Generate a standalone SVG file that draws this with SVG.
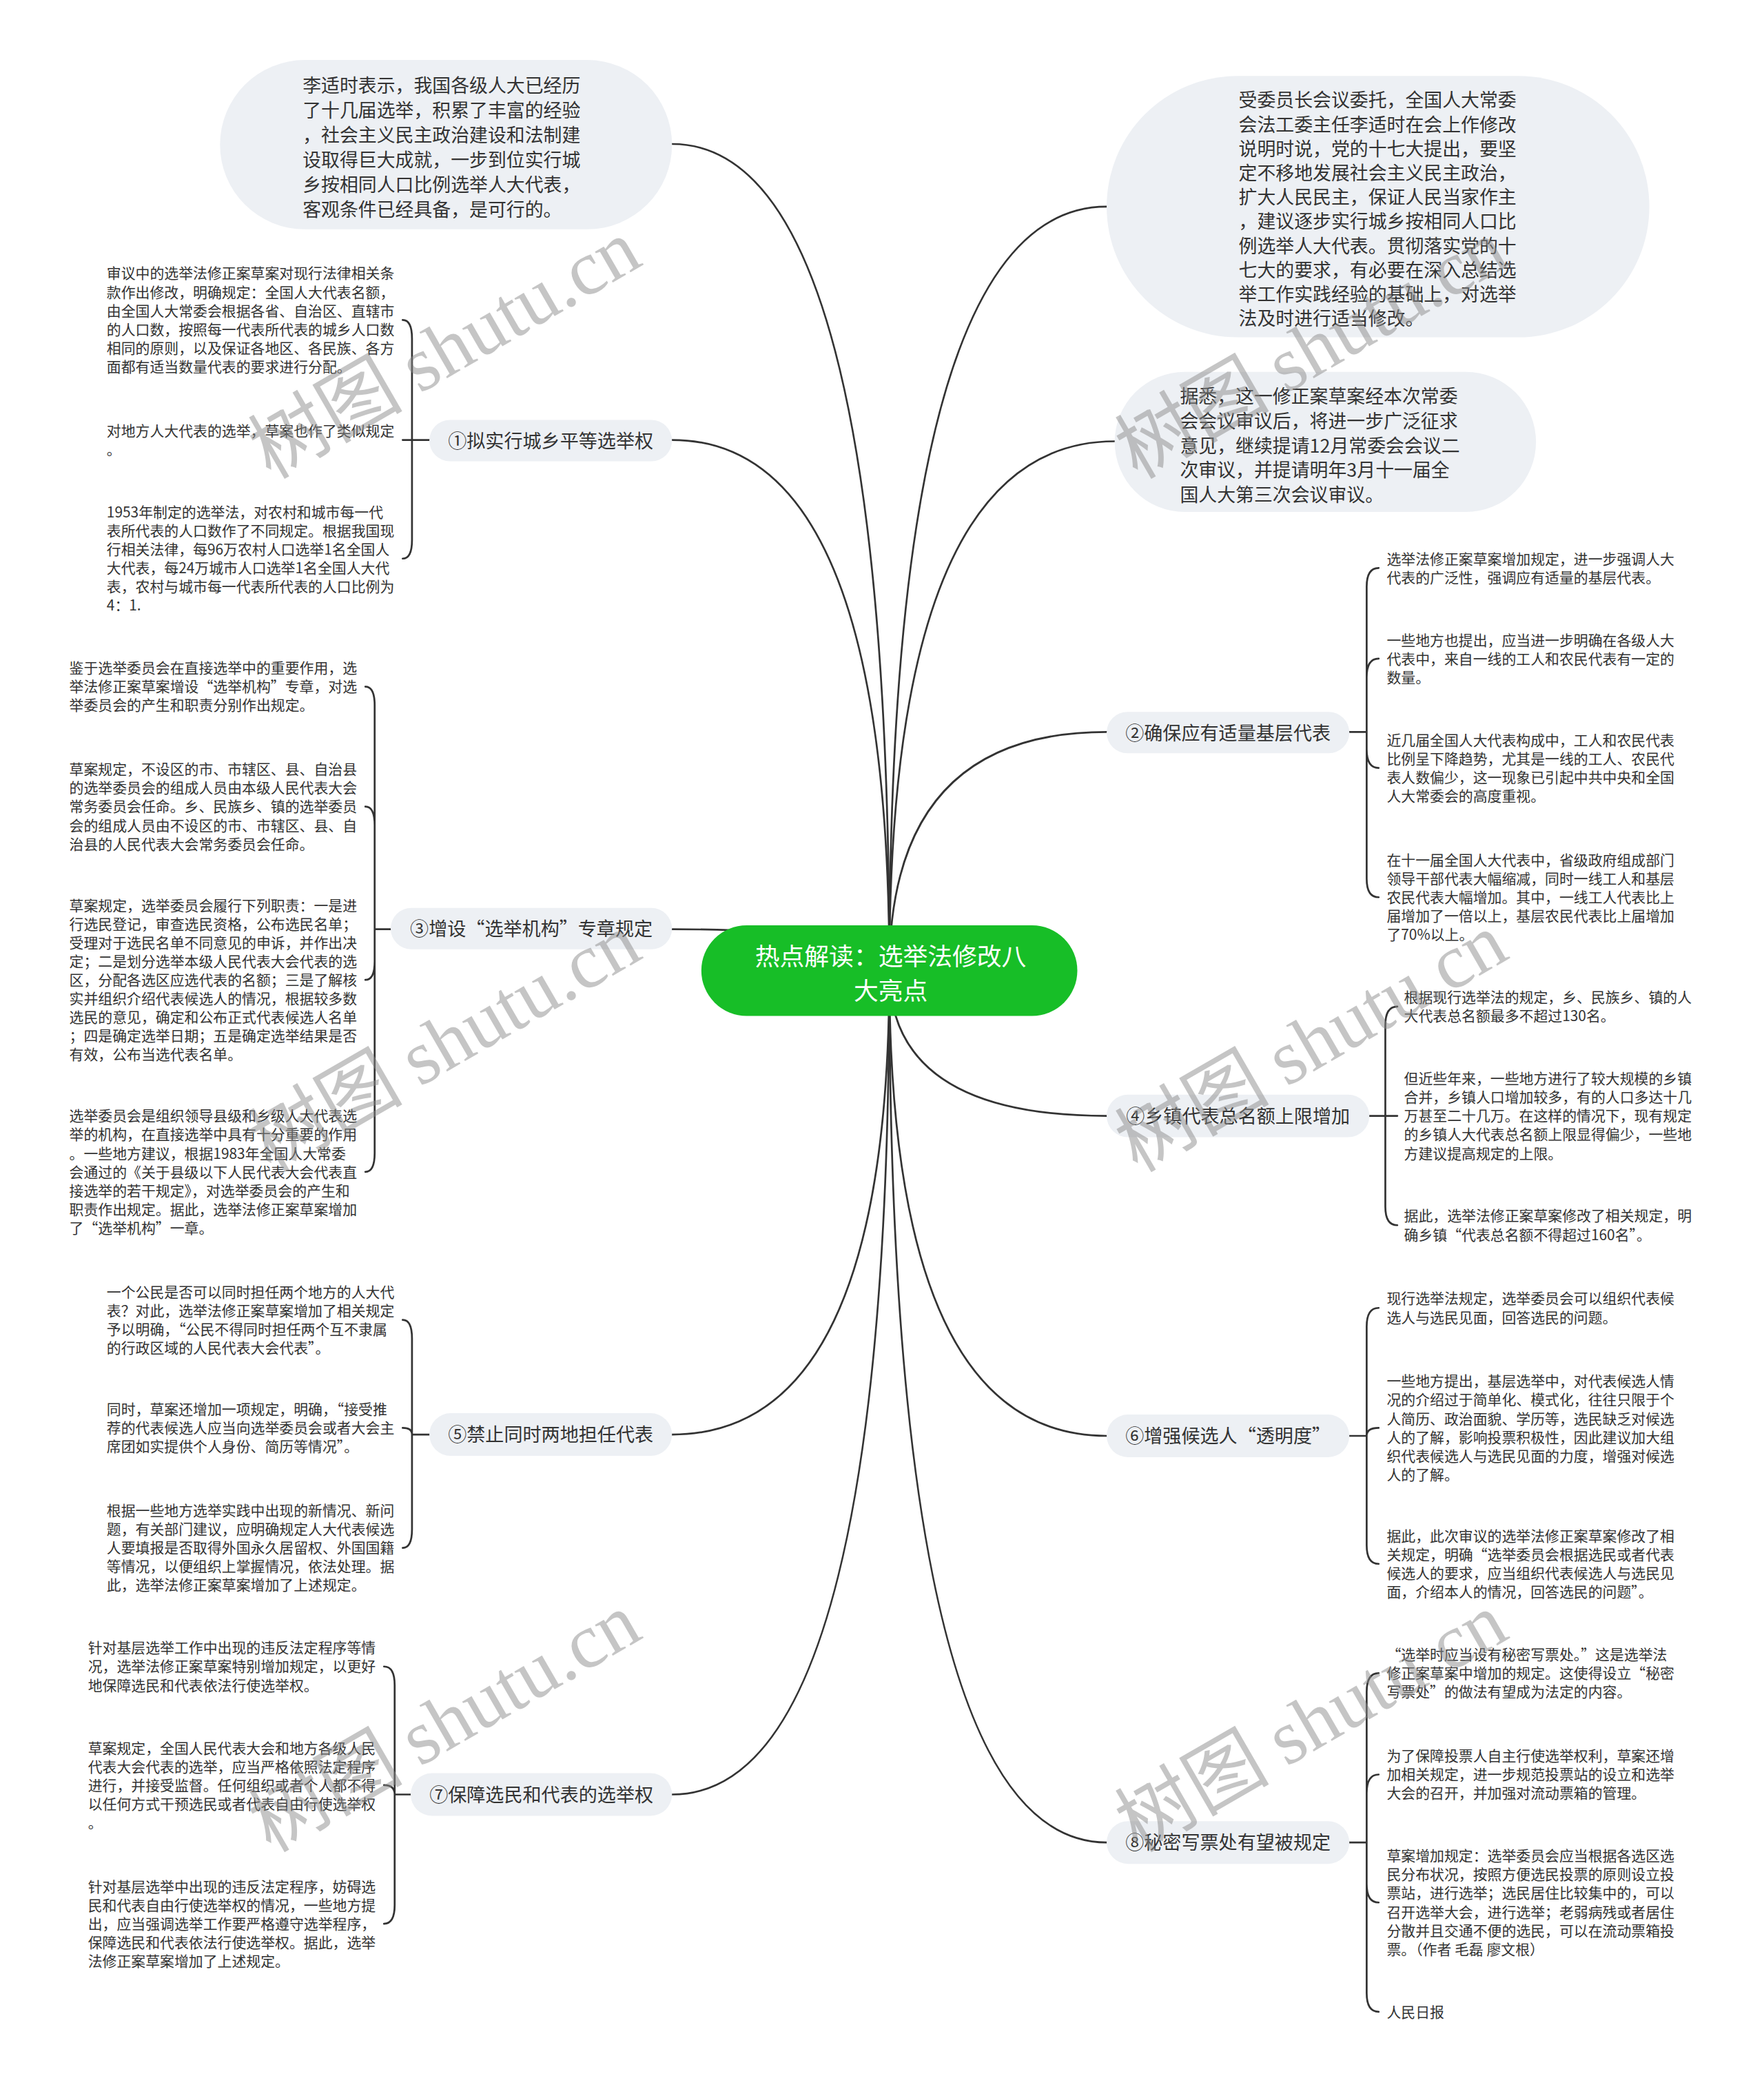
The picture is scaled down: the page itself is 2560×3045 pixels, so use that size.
<svg xmlns="http://www.w3.org/2000/svg" width="2560" height="3045" viewBox="0 0 2560 3045">
<style>
text{font-family:"Noto Sans CJK SC","Noto Sans",sans-serif;fill:#333}
.leaf{font-size:10.8px}
.br{font-size:14px;text-anchor:middle}
.bub{font-size:13.9px}
.ctr{font-size:18.5px;fill:#fff;text-anchor:middle}
.pill{fill:#edf0f4}
.ln{fill:none;stroke:#333;stroke-width:1.4;stroke-linecap:round}
.wm{font-size:58px;fill:#8c8c8c;opacity:.5}
.wm tspan{font-family:"Liberation Serif",serif}
</style>
<rect width="2560" height="3045" fill="#fff"/>
<g transform="scale(1.935)">
<g id="connectors">
<path class="ln" d="M667 728Q667 108 504 108"/>
<path class="ln" d="M667 728Q667 155 830 155"/>
<path class="ln" d="M667 728Q667 331 836 331"/>
<path class="ln" d="M667 728Q667 330 504 330"/>
<path class="ln" d="M667 728Q667 549 830 549"/>
<path class="ln" d="M667 728Q667 697 504 697"/>
<path class="ln" d="M667 728Q667 837 830 837"/>
<path class="ln" d="M667 728Q667 1076 504 1076"/>
<path class="ln" d="M667 728Q667 1077 830 1077"/>
<path class="ln" d="M667 728Q667 1346 504 1346"/>
<path class="ln" d="M667 728Q667 1382 830 1382"/>
<path class="ln" d="M322 330H309M309 330V254Q309 240 302 240M309 330H302M309 330V405Q309 419 302 419"/>
<path class="ln" d="M293 697H281M281 697V529Q281 515 274 515M281 697V619Q281 605 274 605M281 697V721Q281 735 274 735M281 697V865Q281 879 274 879"/>
<path class="ln" d="M322 1076H309M309 1076V1004Q309 990 302 990M309 1076Q309 1071 302 1071M309 1076V1147Q309 1161 302 1161"/>
<path class="ln" d="M308 1346H296M296 1346V1264Q296 1250 288 1250M296 1346Q296 1339 288 1339M296 1346V1429Q296 1443 288 1443"/>
<path class="ln" d="M1012 549H1025M1025 549V440Q1025 426 1034 426M1025 549V508Q1025 494 1034 494M1025 549V562Q1025 576 1034 576M1025 549V659Q1025 673 1034 673"/>
<path class="ln" d="M1027 837H1039M1039 837V769Q1039 755 1048 755M1039 837H1048M1039 837V905Q1039 919 1048 919"/>
<path class="ln" d="M1012 1077H1025M1025 1077V995Q1025 981 1034 981M1025 1077Q1025 1071 1034 1071M1025 1077V1159Q1025 1173 1034 1173"/>
<path class="ln" d="M1012 1382H1025M1025 1382V1269Q1025 1255 1034 1255M1025 1382V1345Q1025 1331 1034 1331M1025 1382V1413Q1025 1427 1034 1427M1025 1382V1495Q1025 1509 1034 1509"/>
</g>

<g id="center">
<rect x="526" y="694" width="282" height="68" rx="34" fill="#17be27"/>
<text class="ctr"><tspan x="668" y="724">热点解读：选举法修改八</tspan><tspan x="668" y="750">大亮点</tspan></text>
</g>

<g id="bubbleA">
<rect class="pill" x="165" y="45" width="339" height="127" rx="63.5"/>
<text class="bub"><tspan x="227" y="69">李适时表示，我国各级人大已经历</tspan><tspan x="227" y="87.7">了十几届选举，积累了丰富的经验</tspan><tspan x="227" y="106.4">，社会主义民主政治建设和法制建</tspan><tspan x="227" y="125.1">设取得巨大成就，一步到位实行城</tspan><tspan x="227" y="143.8">乡按相同人口比例选举人大代表，</tspan><tspan x="227" y="162.5">客观条件已经具备，是可行的。</tspan></text>
</g>

<g id="bubbleB">
<rect class="pill" x="830" y="57" width="407" height="196" rx="98"/>
<text class="bub"><tspan x="929" y="80.3">受委员长会议委托，全国人大常委</tspan><tspan x="929" y="98.5">会法工委主任李适时在会上作修改</tspan><tspan x="929" y="116.7">说明时说，党的十七大提出，要坚</tspan><tspan x="929" y="134.9">定不移地发展社会主义民主政治，</tspan><tspan x="929" y="153.1">扩大人民民主，保证人民当家作主</tspan><tspan x="929" y="171.3">，建议逐步实行城乡按相同人口比</tspan><tspan x="929" y="189.5">例选举人大代表。贯彻落实党的十</tspan><tspan x="929" y="207.7">七大的要求，有必要在深入总结选</tspan><tspan x="929" y="225.9">举工作实践经验的基础上，对选举</tspan><tspan x="929" y="244.1">法及时进行适当修改。</tspan></text>
</g>

<g id="bubbleC">
<rect class="pill" x="836" y="279" width="316" height="105" rx="52.5"/>
<text class="bub"><tspan x="885" y="302.5">据悉，这一修正案草案经本次常委</tspan><tspan x="885" y="320.9">会会议审议后，将进一步广泛征求</tspan><tspan x="885" y="339.3">意见，继续提请12月常委会会议二</tspan><tspan x="885" y="357.7">次审议，并提请明年3月十一届全</tspan><tspan x="885" y="376.1">国人大第三次会议审议。</tspan></text>
</g>

<g id="b1">
<rect class="pill" x="322" y="315" width="182" height="31" rx="15.5"/>
<text class="br" x="413" y="335.8">①拟实行城乡平等选举权</text>
</g>
<g id="b1-leaves">
<text class="leaf"><tspan x="80" y="209">审议中的选举法修正案草案对现行法律相关条</tspan><tspan x="80" y="223">款作出修改，明确规定：全国人大代表名额，</tspan><tspan x="80" y="237">由全国人大常委会根据各省、自治区、直辖市</tspan><tspan x="80" y="251">的人口数，按照每一代表所代表的城乡人口数</tspan><tspan x="80" y="265">相同的原则，以及保证各地区、各民族、各方</tspan><tspan x="80" y="279">面都有适当数量代表的要求进行分配。</tspan></text>
<text class="leaf"><tspan x="80" y="327">对地方人大代表的选举，草案也作了类似规定</tspan><tspan x="80" y="341">。</tspan></text>
<text class="leaf"><tspan x="80" y="388">1953年制定的选举法，对农村和城市每一代</tspan><tspan x="80" y="402">表所代表的人口数作了不同规定。根据我国现</tspan><tspan x="80" y="416">行相关法律，每96万农村人口选举1名全国人</tspan><tspan x="80" y="430">大代表，每24万城市人口选举1名全国人大代</tspan><tspan x="80" y="444">表，农村与城市每一代表所代表的人口比例为</tspan><tspan x="80" y="458">4：1.</tspan></text>
</g>

<g id="b3">
<rect class="pill" x="293" y="681" width="211" height="31" rx="15.5"/>
<text class="br" x="398.5" y="701.8">③增设“选举机构”专章规定</text>
</g>
<g id="b3-leaves">
<text class="leaf"><tspan x="52" y="505">鉴于选举委员会在直接选举中的重要作用，选</tspan><tspan x="52" y="519">举法修正案草案增设“选举机构”专章，对选</tspan><tspan x="52" y="533">举委员会的产生和职责分别作出规定。</tspan></text>
<text class="leaf"><tspan x="52" y="581">草案规定，不设区的市、市辖区、县、自治县</tspan><tspan x="52" y="595">的选举委员会的组成人员由本级人民代表大会</tspan><tspan x="52" y="609">常务委员会任命。乡、民族乡、镇的选举委员</tspan><tspan x="52" y="623">会的组成人员由不设区的市、市辖区、县、自</tspan><tspan x="52" y="637">治县的人民代表大会常务委员会任命。</tspan></text>
<text class="leaf"><tspan x="52" y="683">草案规定，选举委员会履行下列职责：一是进</tspan><tspan x="52" y="697">行选民登记，审查选民资格，公布选民名单；</tspan><tspan x="52" y="711">受理对于选民名单不同意见的申诉，并作出决</tspan><tspan x="52" y="725">定；二是划分选举本级人民代表大会代表的选</tspan><tspan x="52" y="739">区，分配各选区应选代表的名额；三是了解核</tspan><tspan x="52" y="753">实并组织介绍代表候选人的情况，根据较多数</tspan><tspan x="52" y="767">选民的意见，确定和公布正式代表候选人名单</tspan><tspan x="52" y="781">；四是确定选举日期；五是确定选举结果是否</tspan><tspan x="52" y="795">有效，公布当选代表名单。</tspan></text>
<text class="leaf"><tspan x="52" y="841">选举委员会是组织领导县级和乡级人大代表选</tspan><tspan x="52" y="855">举的机构，在直接选举中具有十分重要的作用</tspan><tspan x="52" y="869">。一些地方建议，根据1983年全国人大常委</tspan><tspan x="52" y="883">会通过的《关于县级以下人民代表大会代表直</tspan><tspan x="52" y="897">接选举的若干规定》，对选举委员会的产生和</tspan><tspan x="52" y="911">职责作出规定。据此，选举法修正案草案增加</tspan><tspan x="52" y="925">了“选举机构”一章。</tspan></text>
</g>

<g id="b5">
<rect class="pill" x="322" y="1060" width="182" height="32" rx="16"/>
<text class="br" x="413" y="1081.3">⑤禁止同时两地担任代表</text>
</g>
<g id="b5-leaves">
<text class="leaf"><tspan x="80" y="973">一个公民是否可以同时担任两个地方的人大代</tspan><tspan x="80" y="987">表？对此，选举法修正案草案增加了相关规定</tspan><tspan x="80" y="1001">予以明确，“公民不得同时担任两个互不隶属</tspan><tspan x="80" y="1015">的行政区域的人民代表大会代表”。</tspan></text>
<text class="leaf"><tspan x="80" y="1061">同时，草案还增加一项规定，明确，“接受推</tspan><tspan x="80" y="1075">荐的代表候选人应当向选举委员会或者大会主</tspan><tspan x="80" y="1089">席团如实提供个人身份、简历等情况”。</tspan></text>
<text class="leaf"><tspan x="80" y="1137">根据一些地方选举实践中出现的新情况、新问</tspan><tspan x="80" y="1151">题，有关部门建议，应明确规定人大代表候选</tspan><tspan x="80" y="1165">人要填报是否取得外国永久居留权、外国国籍</tspan><tspan x="80" y="1179">等情况，以便组织上掌握情况，依法处理。据</tspan><tspan x="80" y="1193">此，选举法修正案草案增加了上述规定。</tspan></text>
</g>

<g id="b7">
<rect class="pill" x="308" y="1330" width="196" height="32" rx="16"/>
<text class="br" x="406" y="1351.3">⑦保障选民和代表的选举权</text>
</g>
<g id="b7-leaves">
<text class="leaf"><tspan x="66" y="1240">针对基层选举工作中出现的违反法定程序等情</tspan><tspan x="66" y="1254">况，选举法修正案草案特别增加规定，以更好</tspan><tspan x="66" y="1268">地保障选民和代表依法行使选举权。</tspan></text>
<text class="leaf"><tspan x="66" y="1315">草案规定，全国人民代表大会和地方各级人民</tspan><tspan x="66" y="1329">代表大会代表的选举，应当严格依照法定程序</tspan><tspan x="66" y="1343">进行，并接受监督。任何组织或者个人都不得</tspan><tspan x="66" y="1357">以任何方式干预选民或者代表自由行使选举权</tspan><tspan x="66" y="1371">。</tspan></text>
<text class="leaf"><tspan x="66" y="1419">针对基层选举中出现的违反法定程序，妨碍选</tspan><tspan x="66" y="1433">民和代表自由行使选举权的情况，一些地方提</tspan><tspan x="66" y="1447">出，应当强调选举工作要严格遵守选举程序，</tspan><tspan x="66" y="1461">保障选民和代表依法行使选举权。据此，选举</tspan><tspan x="66" y="1475">法修正案草案增加了上述规定。</tspan></text>
</g>

<g id="b2">
<rect class="pill" x="830" y="534" width="182" height="31" rx="15.5"/>
<text class="br" x="921" y="554.8">②确保应有适量基层代表</text>
</g>
<g id="b2-leaves">
<text class="leaf"><tspan x="1040" y="423">选举法修正案草案增加规定，进一步强调人大</tspan><tspan x="1040" y="437">代表的广泛性，强调应有适量的基层代表。</tspan></text>
<text class="leaf"><tspan x="1040" y="484">一些地方也提出，应当进一步明确在各级人大</tspan><tspan x="1040" y="498">代表中，来自一线的工人和农民代表有一定的</tspan><tspan x="1040" y="512">数量。</tspan></text>
<text class="leaf"><tspan x="1040" y="559">近几届全国人大代表构成中，工人和农民代表</tspan><tspan x="1040" y="573">比例呈下降趋势，尤其是一线的工人、农民代</tspan><tspan x="1040" y="587">表人数偏少，这一现象已引起中共中央和全国</tspan><tspan x="1040" y="601">人大常委会的高度重视。</tspan></text>
<text class="leaf"><tspan x="1040" y="649">在十一届全国人大代表中，省级政府组成部门</tspan><tspan x="1040" y="663">领导干部代表大幅缩减，同时一线工人和基层</tspan><tspan x="1040" y="677">农民代表大幅增加。其中，一线工人代表比上</tspan><tspan x="1040" y="691">届增加了一倍以上，基层农民代表比上届增加</tspan><tspan x="1040" y="705">了70%以上。</tspan></text>
</g>

<g id="b4">
<rect class="pill" x="830" y="821" width="197" height="32" rx="16"/>
<text class="br" x="928.5" y="842.3">④乡镇代表总名额上限增加</text>
</g>
<g id="b4-leaves">
<text class="leaf"><tspan x="1053" y="752">根据现行选举法的规定，乡、民族乡、镇的人</tspan><tspan x="1053" y="766">大代表总名额最多不超过130名。</tspan></text>
<text class="leaf"><tspan x="1053" y="813">但近些年来，一些地方进行了较大规模的乡镇</tspan><tspan x="1053" y="827">合并，乡镇人口增加较多，有的人口多达十几</tspan><tspan x="1053" y="841">万甚至二十几万。在这样的情况下，现有规定</tspan><tspan x="1053" y="855">的乡镇人大代表总名额上限显得偏少，一些地</tspan><tspan x="1053" y="869">方建议提高规定的上限。</tspan></text>
<text class="leaf"><tspan x="1053" y="916">据此，选举法修正案草案修改了相关规定，明</tspan><tspan x="1053" y="930">确乡镇“代表总名额不得超过160名”。</tspan></text>
</g>

<g id="b6">
<rect class="pill" x="830" y="1061" width="182" height="32" rx="16"/>
<text class="br" x="921" y="1082.3">⑥增强候选人“透明度”</text>
</g>
<g id="b6-leaves">
<text class="leaf"><tspan x="1040" y="978">现行选举法规定，选举委员会可以组织代表候</tspan><tspan x="1040" y="992">选人与选民见面，回答选民的问题。</tspan></text>
<text class="leaf"><tspan x="1040" y="1040">一些地方提出，基层选举中，对代表候选人情</tspan><tspan x="1040" y="1054">况的介绍过于简单化、模式化，往往只限于个</tspan><tspan x="1040" y="1068">人简历、政治面貌、学历等，选民缺乏对候选</tspan><tspan x="1040" y="1082">人的了解，影响投票积极性，因此建议加大组</tspan><tspan x="1040" y="1096">织代表候选人与选民见面的力度，增强对候选</tspan><tspan x="1040" y="1110">人的了解。</tspan></text>
<text class="leaf"><tspan x="1040" y="1156">据此，此次审议的选举法修正案草案修改了相</tspan><tspan x="1040" y="1170">关规定，明确“选举委员会根据选民或者代表</tspan><tspan x="1040" y="1184">候选人的要求，应当组织代表候选人与选民见</tspan><tspan x="1040" y="1198">面，介绍本人的情况，回答选民的问题”。</tspan></text>
</g>

<g id="b8">
<rect class="pill" x="830" y="1366" width="182" height="32" rx="16"/>
<text class="br" x="921" y="1387.3">⑧秘密写票处有望被规定</text>
</g>
<g id="b8-leaves">
<text class="leaf"><tspan x="1040" y="1245">“选举时应当设有秘密写票处。”这是选举法</tspan><tspan x="1040" y="1259">修正案草案中增加的规定。这使得设立“秘密</tspan><tspan x="1040" y="1273">写票处”的做法有望成为法定的内容。</tspan></text>
<text class="leaf"><tspan x="1040" y="1321">为了保障投票人自主行使选举权利，草案还增</tspan><tspan x="1040" y="1335">加相关规定，进一步规范投票站的设立和选举</tspan><tspan x="1040" y="1349">大会的召开，并加强对流动票箱的管理。</tspan></text>
<text class="leaf"><tspan x="1040" y="1396">草案增加规定：选举委员会应当根据各选区选</tspan><tspan x="1040" y="1410">民分布状况，按照方便选民投票的原则设立投</tspan><tspan x="1040" y="1424">票站，进行选举；选民居住比较集中的，可以</tspan><tspan x="1040" y="1438">召开选举大会，进行选举；老弱病残或者居住</tspan><tspan x="1040" y="1452">分散并且交通不便的选民，可以在流动票箱投</tspan><tspan x="1040" y="1466">票。（作者 毛磊 廖文根）</tspan></text>
<text class="leaf"><tspan x="1040" y="1513">人民日报</tspan></text>
</g>

<g id="watermarks">
<text class="wm" transform="translate(203 360) rotate(-30)">树图 <tspan>shutu.cn</tspan></text>
<text class="wm" transform="translate(853 360) rotate(-30)">树图 <tspan>shutu.cn</tspan></text>
<text class="wm" transform="translate(203 880) rotate(-30)">树图 <tspan>shutu.cn</tspan></text>
<text class="wm" transform="translate(853 880) rotate(-30)">树图 <tspan>shutu.cn</tspan></text>
<text class="wm" transform="translate(203 1390) rotate(-30)">树图 <tspan>shutu.cn</tspan></text>
<text class="wm" transform="translate(853 1390) rotate(-30)">树图 <tspan>shutu.cn</tspan></text>
</g>
</g>
</svg>
